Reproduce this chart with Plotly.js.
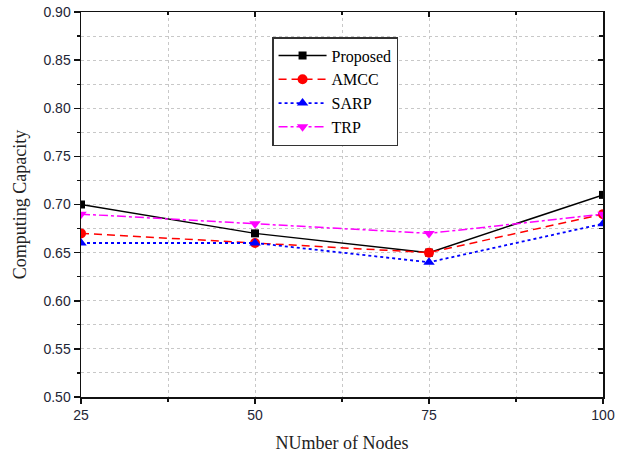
<!DOCTYPE html>
<html>
<head>
<meta charset="utf-8">
<script src="https://cdn.plot.ly/plotly-3.0.1.min.js"></script>
<style>body{margin:0;background:#fff}#chart{width:629px;height:456px}</style>
</head>
<body>
<div id="chart"></div>
<script>
const nodes = [25, 50, 75, 100];
const proposed = [0.70, 0.67, 0.65, 0.71];
const amcc = [0.67, 0.66, 0.65, 0.69];
const sarp = [0.66, 0.66, 0.64, 0.68];
const trp = [0.69, 0.68, 0.67, 0.69];
const yTicks = [0.50, 0.55, 0.60, 0.65, 0.70, 0.75, 0.80, 0.85, 0.90];
const yTickText = yTicks.map(v => v.toFixed(2));

const traces = [
  {x: nodes, y: proposed, name: 'Proposed', mode: 'lines+markers',
   line: {color: '#000000', width: 1.5, dash: 'solid'},
   marker: {symbol: 'square', size: 8, color: '#000000'}},
  {x: nodes, y: amcc, name: 'AMCC', mode: 'lines+markers',
   line: {color: '#ff0000', width: 1.5, dash: '8px,5px'},
   marker: {symbol: 'circle', size: 10, color: '#ff0000'}},
  {x: nodes, y: sarp, name: 'SARP', mode: 'lines+markers',
   line: {color: '#0000ff', width: 1.8, dash: 'dot'},
   marker: {symbol: 'triangle-up', size: 10, color: '#0000ff'}},
  {x: nodes, y: trp, name: 'TRP', mode: 'lines+markers',
   line: {color: '#ff00ff', width: 1.5, dash: 'dashdot'},
   marker: {symbol: 'triangle-down', size: 10, color: '#ff00ff'}},
  {x: [], y: [], xaxis: 'x2', yaxis: 'y2', showlegend: false, hoverinfo: 'skip'}
];

const tickFont = {family: 'Liberation Sans, Arial, sans-serif', size: 14, color: '#1e2535'};
const titleFont = {family: 'Liberation Serif, Times New Roman, serif', size: 18, color: '#222'};

const layout = {
  width: 629, height: 456,
  margin: {l: 81, r: 26, t: 12, b: 59},
  paper_bgcolor: '#fff', plot_bgcolor: '#fff',
  showlegend: true,
  legend: {
    x: 0.366, y: 0.935, xanchor: 'left', yanchor: 'top',
    bordercolor: '#333', borderwidth: 1.5, bgcolor: '#fff',
    font: {family: 'Liberation Serif, Times New Roman, serif', size: 16, color: '#000'},
    tracegroupgap: 0, itemwidth: 48
  },
  xaxis: {
    range: [25, 100], tickvals: nodes, ticktext: nodes.map(String),
    showgrid: false, zeroline: false,
    showline: true, linecolor: '#111', linewidth: 1.5,
    ticks: 'outside', ticklen: 5, tickwidth: 1.5, tickcolor: '#111',
    tickfont: tickFont,
    minor: {dtick: 12.5, tick0: 25, ticks: 'outside', ticklen: 3, tickcolor: '#111', tickwidth: 1.2,
            showgrid: true, gridcolor: '#c8c8c8', griddash: 'dot', gridwidth: 1},
    title: {text: 'NUmber of Nodes', font: titleFont, standoff: 14}
  },
  yaxis: {
    range: [0.50, 0.90], tickvals: yTicks, ticktext: yTickText,
    showgrid: false, zeroline: false,
    showline: true, linecolor: '#111', linewidth: 1.5,
    ticks: 'outside', ticklen: 6, tickwidth: 1.5, tickcolor: '#111',
    tickfont: tickFont,
    minor: {dtick: 0.025, tick0: 0.5, ticks: 'outside', ticklen: 3, tickcolor: '#111', tickwidth: 1.2,
            showgrid: true, gridcolor: '#c8c8c8', griddash: 'dot', gridwidth: 1},
    title: {text: 'Computing Capacity', font: titleFont, standoff: 12}
  },
  xaxis2: {
    overlaying: 'x', side: 'top', anchor: 'y2', range: [25, 100],
    tickvals: nodes, showticklabels: false, showgrid: false, zeroline: false,
    showline: true, linecolor: '#111', linewidth: 1.5,
    ticks: 'inside', ticklen: 5, tickwidth: 1.5, tickcolor: '#111',
    minor: {dtick: 12.5, tick0: 25, ticks: 'inside', ticklen: 3, tickcolor: '#111', tickwidth: 1.2}
  },
  yaxis2: {
    overlaying: 'y', side: 'right', anchor: 'x2', range: [0.50, 0.90],
    tickvals: yTicks, showticklabels: false, showgrid: false, zeroline: false,
    showline: true, linecolor: '#111', linewidth: 1.5,
    ticks: 'inside', ticklen: 5, tickwidth: 1.5, tickcolor: '#111',
    minor: {dtick: 0.025, tick0: 0.5, ticks: 'inside', ticklen: 4, tickcolor: '#111', tickwidth: 1.2}
  }
};

Plotly.newPlot('chart', traces, layout, {displayModeBar: false, staticPlot: true});
</script>
</body>
</html>
